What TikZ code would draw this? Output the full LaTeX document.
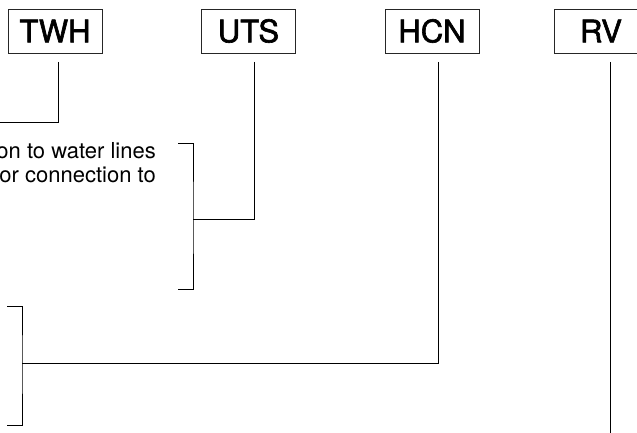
\documentclass[tikz,border=0pt]{standalone}
\usepackage{fontspec}
\setmainfont{TeX Gyre Heros}
\newfontfamily\lblfont[FakeBold=2]{TeX Gyre Heros}
\begin{document}
\begin{tikzpicture}[x=1pt,y=-1pt,
  lbl/.style={draw=black!85, line width=0.8pt, minimum width=94pt, minimum height=44pt, inner sep=0pt,
    font=\lblfont\fontsize{31}{31}\selectfont},
  conn/.style={draw=black, line width=1pt},
  note/.style={align=right, inner sep=0pt, font=\fontsize{22}{24}\selectfont}]
\clip (0,0) rectangle (637,433);
\fill[white] (0,0) rectangle (637,433);
% boxes
\node[lbl] (TWH) at (55,31) {TWH};
\node[lbl] (UTS) at (248.5,31) {UTS};
\node[lbl] (HCN) at (432,31) {HCN};
\node[lbl] (RV) at (601,31) {RV};
% note text
\node[note, anchor=north east] (txt) at (156,142) {on to water lines\\or connection to};
% coordinates
\coordinate (twhTop) at (58,62);
\coordinate (twhEnd) at (0,123);
\coordinate (utsTop) at (254,62);
\coordinate (utsJ) at (193,219);
\coordinate (utsB1) at (178,144);
\coordinate (utsB2) at (178,289);
\coordinate (hcnTop) at (438,62);
\coordinate (hcnJ) at (22,363);
\coordinate (hcnB1) at (7,306);
\coordinate (hcnB2) at (7,425);
\coordinate (rvTop) at (610,62);
\coordinate (rvEnd) at (610,433);
% connectors
\draw[conn] (twhTop) |- (twhEnd);
\draw[conn] (utsTop) |- (utsJ);
\draw[conn] (utsB1) -| (utsJ) |- (utsB2);
\draw[conn] (hcnTop) |- (hcnJ);
\draw[conn] (hcnB1) -| (hcnJ) |- (hcnB2);
\draw[conn] (rvTop) -- (rvEnd);
\end{tikzpicture}
\end{document}
